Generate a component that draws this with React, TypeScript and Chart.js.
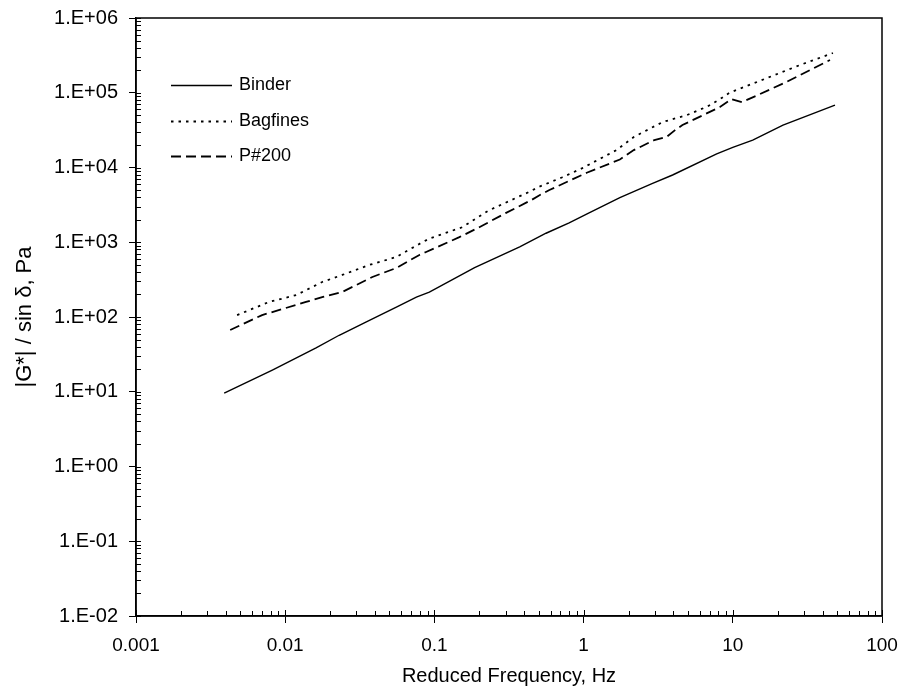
import React, { useEffect, useRef } from "react";
import { Chart, registerables } from "chart.js";

Chart.register(...registerables);

// ---- data ----
const BINDER_FREQ = [0.0039, 0.0082, 0.0161, 0.023, 0.035, 0.0556, 0.0757, 0.0925, 0.186, 0.373, 0.56, 0.8, 1.08, 1.75, 2.9, 3.95, 7.8, 10, 13.6, 21.7, 48.4];
const BINDER_VALS = [9.6, 19.5, 38.5, 57, 86, 136, 185, 215, 457, 870, 1320, 1820, 2450, 3950, 6150, 7940, 15200, 18600, 23300, 37000, 68500];

const BAGFINES_FREQ = [0.00476, 0.0078, 0.0119, 0.0177, 0.0241, 0.0366, 0.0556, 0.0793, 0.0925, 0.154, 0.23, 0.43, 0.5, 0.72, 0.98, 1.66, 2.17, 3.4, 4.9, 6.7, 8.2, 9.5, 16.9, 28.2, 46.9];
const BAGFINES_VALS = [106, 159, 197, 294, 365, 497, 635, 950, 1120, 1590, 2650, 4700, 5500, 7400, 9800, 17100, 25600, 40700, 50000, 65000, 82000, 100000, 157000, 235000, 340000];

const P200_FREQ = [0.00428, 0.007, 0.0138, 0.0177, 0.0241, 0.0384, 0.0556, 0.0793, 0.088, 0.147, 0.2, 0.3, 0.45, 0.5, 0.59, 1.05, 1.75, 2.17, 2.98, 3.6, 4.1, 4.6, 6.3, 8.2, 9.8, 11.5, 14.5, 23, 44.8];
const P200_VALS = [67, 106, 159, 185, 216, 343, 453, 676, 741, 1170, 1590, 2450, 3700, 4200, 5000, 8500, 12800, 17100, 23300, 25600, 31600, 37000, 50000, 64500, 82000, 75000, 92000, 140000, 274000];

const SERIES_NAMES = ["Binder", "Bagfines", "P#200"];

const X_TICKS = [0.001, 0.01, 0.1, 1, 10, 100];
const X_TICK_LABELS = ["0.001", "0.01", "0.1", "1", "10", "100"];
const Y_TICKS = [1e-2, 1e-1, 1e0, 1e1, 1e2, 1e3, 1e4, 1e5, 1e6];
const Y_TICK_LABELS = ["1.E-02", "1.E-01", "1.E+00", "1.E+01", "1.E+02", "1.E+03", "1.E+04", "1.E+05", "1.E+06"];

const X_TITLE = "Reduced Frequency, Hz";
const Y_TITLE = "|G*| / sin \u03b4, Pa";

const FONT = "'Liberation Sans', Arial, sans-serif";

const toPoints = (xs: number[], ys: number[]) => xs.map((x, i) => ({ x, y: ys[i] }));

const clearPadding = (s: any) => {
  s.paddingTop = 0;
  s.paddingBottom = 0;
  s.paddingLeft = 0;
  s.paddingRight = 0;
};

const decorPlugin = {
  id: "decor",
  afterDraw(chart: any) {
    const { ctx, chartArea: a, scales } = chart;
    const xs = scales.x;
    const ys = scales.y;
    ctx.save();
    ctx.strokeStyle = "#000";
    ctx.lineWidth = 1;
    for (let i = 0; i < Y_TICKS.length; i++) {
      const base = Y_TICKS[i];
      const py = Math.round(ys.getPixelForValue(base)) + 0.5;
      ctx.beginPath();
      ctx.moveTo(a.left, py);
      ctx.lineTo(a.left + 5, py);
      ctx.stroke();
      if (i < Y_TICKS.length - 1) {
        for (let m = 2; m < 10; m++) {
          const p = Math.round(ys.getPixelForValue(base * m)) + 0.5;
          ctx.beginPath();
          ctx.moveTo(a.left, p);
          ctx.lineTo(a.left + 5, p);
          ctx.stroke();
        }
      }
    }
    for (let i = 0; i < X_TICKS.length; i++) {
      const base = X_TICKS[i];
      const px = Math.round(xs.getPixelForValue(base)) + 0.5;
      ctx.beginPath();
      ctx.moveTo(px, a.bottom);
      ctx.lineTo(px, a.bottom - 6);
      ctx.stroke();
      if (i < X_TICKS.length - 1) {
        for (let m = 2; m < 10; m++) {
          const p = Math.round(xs.getPixelForValue(base * m)) + 0.5;
          ctx.beginPath();
          ctx.moveTo(p, a.bottom);
          ctx.lineTo(p, a.bottom - 5);
          ctx.stroke();
        }
      }
    }
    ctx.lineWidth = 1.5;
    ctx.strokeRect(a.left, a.top, a.right - a.left, a.bottom - a.top);

    // legend
    const ds = chart.data.datasets;
    const lx0 = a.left + 35;
    const lx1 = a.left + 96;
    const ly0 = a.top + 67;
    ctx.font = `18px ${FONT}`;
    ctx.fillStyle = "#000";
    ctx.textBaseline = "middle";
    ctx.textAlign = "left";
    for (let i = 0; i < ds.length; i++) {
      const y = Math.round(ly0 + i * 35.5) + 0.5;
      ctx.save();
      ctx.lineWidth = ds[i].borderWidth;
      ctx.setLineDash(ds[i].borderDash || []);
      ctx.beginPath();
      ctx.moveTo(lx0, y);
      ctx.lineTo(lx1, y);
      ctx.stroke();
      ctx.restore();
      ctx.fillText(ds[i].label, lx1 + 7, y);
    }
    ctx.restore();
  },
};

export default function App() {
  const ref = useRef<HTMLCanvasElement | null>(null);
  useEffect(() => {
    if (!ref.current) return;
    Chart.defaults.font.family = FONT;
    Chart.defaults.color = "#000";
    const chart = new Chart(ref.current, {
      type: "line",
      data: {
        datasets: [
          {
            label: SERIES_NAMES[0],
            data: toPoints(BINDER_FREQ, BINDER_VALS),
            borderColor: "#000",
            borderWidth: 1.4,
            borderDash: [],
            pointRadius: 0,
            tension: 0,
          },
          {
            label: SERIES_NAMES[1],
            data: toPoints(BAGFINES_FREQ, BAGFINES_VALS),
            borderColor: "#000",
            borderWidth: 1.8,
            borderDash: [2.5, 5],
            pointRadius: 0,
            tension: 0,
          },
          {
            label: SERIES_NAMES[2],
            data: toPoints(P200_FREQ, P200_VALS),
            borderColor: "#000",
            borderWidth: 1.8,
            borderDash: [10, 5],
            pointRadius: 0,
            tension: 0,
          },
        ],
      },
      options: {
        animation: false,
        responsive: false,
        devicePixelRatio: 1,
        layout: { padding: { top: 18, right: 24, bottom: 0, left: 0 } },
        plugins: { legend: { display: false }, tooltip: { enabled: false } },
        scales: {
          x: {
            type: "logarithmic",
            min: 0.001,
            max: 100,
            afterBuildTicks: (s: any) => {
              s.ticks = X_TICKS.map((v) => ({ value: v }));
            },
            afterFit: (s: any) => {
              s.height = 76;
              clearPadding(s);
            },
            ticks: {
              autoSkip: false,
              maxRotation: 0,
              padding: 11,
              font: { size: 19 },
              callback: (_v: any, i: number) => X_TICK_LABELS[i],
            },
            grid: { drawOnChartArea: false, tickLength: 7, color: "#000", lineWidth: 1 },
            border: { color: "#000", width: 1.5 },
            title: { display: true, text: X_TITLE, font: { size: 20 }, padding: { top: 0, bottom: 4 } },
          },
          y: {
            type: "logarithmic",
            min: 0.01,
            max: 1e6,
            afterBuildTicks: (s: any) => {
              s.ticks = Y_TICKS.map((v) => ({ value: v }));
            },
            afterFit: (s: any) => {
              s.width = 136;
              clearPadding(s);
            },
            ticks: {
              autoSkip: false,
              padding: 11,
              font: { size: 20 },
              callback: (_v: any, i: number) => Y_TICK_LABELS[i],
            },
            grid: { drawOnChartArea: false, tickLength: 7, color: "#000", lineWidth: 1 },
            border: { color: "#000", width: 1.5 },
            title: { display: true, text: Y_TITLE, font: { size: 22 }, padding: { top: 12, bottom: 0 } },
          },
        },
      },
      plugins: [decorPlugin],
    } as any);
    return () => chart.destroy();
  }, []);
  return (
    <div style={{ position: "absolute", left: 0, top: 0, width: 906, height: 692, background: "#fff" }}>
      <canvas ref={ref} width={906} height={692} />
    </div>
  );
}
